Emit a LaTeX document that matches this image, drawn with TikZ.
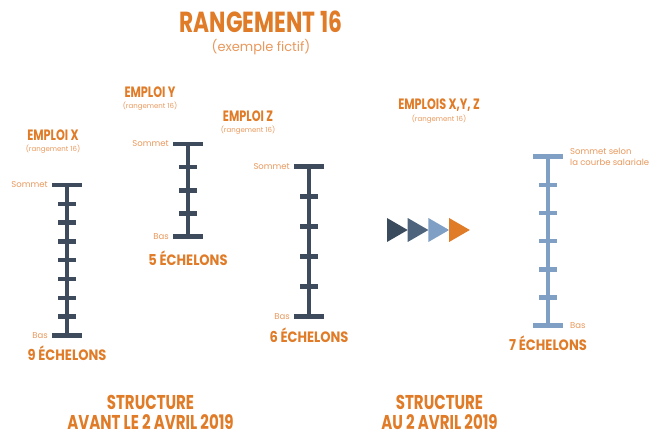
\documentclass[tikz,border=0pt]{standalone}
\usepackage{fontspec}
\setmainfont{Poppins}
\newfontfamily\headfont{Poppins}[FakeStretch=0.75]
\newfontfamily\countfont{Poppins}[FakeStretch=0.87]
\usetikzlibrary{positioning}
\definecolor{rust}{RGB}{224,123,40}
\definecolor{peach}{RGB}{232,152,92}
\definecolor{slate}{RGB}{61,75,92}
\definecolor{navy}{RGB}{58,75,94}
\definecolor{steel}{RGB}{78,100,124}
\definecolor{sky}{RGB}{127,159,197}
\tikzset{
  head/.style={text=rust,font=\headfont\bfseries\fontsize{#1}{#1}\selectfont,
    inner sep=0pt,align=center},
  head/.default=15,
  count/.style={text=rust,font=\countfont\bfseries\fontsize{15}{15}\selectfont,inner sep=0pt},
  sub/.style={text=peach,font=\fontsize{7}{8}\selectfont,inner sep=0pt},
  tag/.style={text=peach,font=\fontsize{8.5}{11.5}\selectfont,inner sep=0pt,align=left},
  % ladder of steps: colour, length, inner rungs
  pics/ladder/.style n args={3}{code={
    \draw[#1,line width=3.5pt] (0,0) -- (0,#2);
    \draw[#1,line width=4.5pt] (-15,0) -- (15,0) (-15,#2) -- (15,#2);
    \foreach \k in {1,...,#3}
      \draw[#1,line width=4.5pt] (-9,{#2*\k/(#3+1)}) -- (9,{#2*\k/(#3+1)});
    \coordinate (-tl) at (-19,0);
    \coordinate (-bl) at (-19,#2);
    \coordinate (-tr) at (22,0);
    \coordinate (-br) at (22,#2);
  }},
}

\begin{document}
\begin{tikzpicture}[x=1pt,y=-1pt]
  \useasboundingbox (0,0) rectangle (653,435);

  \node[head=29,anchor=base] (title) at (261,33) {RANGEMENT 16};
  \node[text=peach,font=\fontsize{13}{13}\selectfont,inner sep=0pt,below=6pt of title] (note) {(exemple fictif)};

  % before
  \node[head,anchor=base] (hx) at (53,141) {EMPLOI X};
  \node[sub,below=3pt of hx] (rx) {(rangement 16)};
  \node[head,anchor=base] (hy) at (150,98) {EMPLOI Y};
  \node[sub,below=3pt of hy] (ry) {(rangement 16)};
  \node[head,anchor=base] (hz) at (248,122) {EMPLOI Z};
  \node[sub,below=3pt of hz] (rz) {(rangement 16)};

  \pic (lx) at (67,185) {ladder={slate}{150.5}{7}};
  \pic (ly) at (188,144) {ladder={slate}{92.7}{3}};
  \pic (lz) at (309,166.7) {ladder={slate}{150}{4}};

  \node[tag,anchor=east] (sx) at (lx-tl) {Sommet};
  \node[tag,anchor=east] (bx) at (lx-bl) {Bas};
  \node[tag,anchor=east] (sy) at (ly-tl) {Sommet};
  \node[tag,anchor=east] (by) at (ly-bl) {Bas};
  \node[tag,anchor=east] (sz) at (lz-tl) {Sommet};
  \node[tag,anchor=east] (bz) at (lz-bl) {Bas};

  \node[count,anchor=base] (cx) at (67,360.5) {9 ÉCHELONS};
  \node[count,anchor=base] (cy) at (188,265.5) {5 ÉCHELONS};
  \node[count,anchor=base] (cz) at (309,342.5) {6 ÉCHELONS};

  % arrows
  \foreach \c [count=\i] in {navy,steel,sky,rust}
    \fill[\c] ({387+20.7*(\i-1)},218) -- ++(20.7,12) -- ++(-20.7,12) -- cycle;

  % after
  \node[head,anchor=base] (hxyz) at (439,110) {EMPLOIS X,Y, Z};
  \node[sub,below=3pt of hxyz] (rxyz) {(rangement 16)};
  \pic (lxyz) at (548,156.7) {ladder={sky}{169}{5}};
  \node[tag,anchor=west] (sxyz) at (lxyz-tr) {Sommet selon\\la courbe salariale};
  \node[tag,anchor=west] (bxyz) at (lxyz-br) {Bas};
  \node[count,anchor=base] (cxyz) at (548,350.5) {7 ÉCHELONS};

  \node[head=20,anchor=north] (avant) at (150.5,395) {STRUCTURE\\AVANT LE 2 AVRIL 2019};
  \node[head=20,anchor=north] (apres) at (439.5,395) {STRUCTURE\\AU 2 AVRIL 2019};
\end{tikzpicture}
\end{document}
